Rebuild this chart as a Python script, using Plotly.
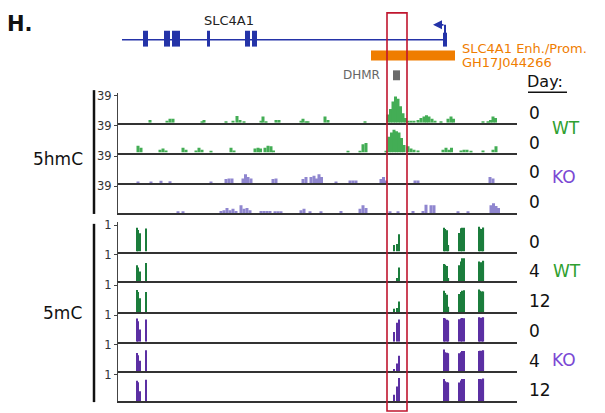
import plotly.graph_objects as go

# ---------------- data (genomic coordinate units along the locus) ----------------
gene_name = "SLC4A1"
gene_start, gene_end = 4, 327
exon_starts = [25, 46, 54, 89, 127, 134]
exon_ends = [30, 52, 62, 92, 132, 139]
tss_exon = (325, 329)
tss_arrow_tip = 315
enh_start, enh_end = 253, 337
dhmr_start, dhmr_end = 275, 282
window_start, window_end = 269, 289

# 5hmC tracks (scale 0-39)
hmc_wt_r1_pos = [32, 49, 52, 55, 84, 86, 108, 115, 119, 122, 126, 143, 145, 148, 158, 161, 183, 185, 188, 190,
                 207, 210, 247, 270, 272.5, 275, 277.5, 280, 282.5, 285, 287.5, 290, 293, 296, 300, 303, 306,
                 308.5, 311, 314, 317, 323, 330, 333, 335.5, 365, 370, 372.5, 375, 377.5]
hmc_wt_r1_val = [4, 3, 6, 6, 2, 4, 1.5, 3, 10, 4, 1.5, 3, 9, 1.5, 4, 4, 3, 6, 1.5, 1.5,
                 9, 4, 1.5, 12, 20, 31, 38, 35, 24, 14, 7, 3, 3, 3, 4, 7, 9,
                 11, 9, 6, 3, 1.5, 6, 9, 6, 1.5, 1.5, 4, 9, 7]
hmc_wt_r2_pos = [20, 23, 42, 45, 48, 65, 68, 78, 81, 84, 93, 113, 116, 137, 140, 142.5, 147, 150, 153, 155.5,
                 230, 242, 245, 248, 268, 271, 273.5, 276, 278.5, 281, 283.5, 286, 290, 293, 296, 300,
                 325, 328, 331, 333.5, 343, 346, 349, 353, 365, 375, 378]
hmc_wt_r2_val = [10, 7, 4, 6, 3, 7, 4, 3, 7, 4, 1.5, 7, 3, 6, 7, 6, 7, 10, 9, 3,
                 1.5, 1.5, 12, 14, 1.5, 23, 29, 33, 31, 29, 21, 11, 9, 6, 4, 3,
                 4, 7, 4, 7, 3, 4, 4, 1.5, 3, 4, 9]
hmc_ko_r1_pos = [20, 33, 43, 52, 93, 108, 111, 114, 125, 127.5, 130, 133, 155, 158, 185, 188, 193, 196, 198.5,
                 201, 203.5, 218, 232, 235, 238, 263, 265.5, 268, 297, 300, 372, 375]
hmc_ko_r1_val = [1.5, 2, 3.5, 3, 1.5, 6, 7, 7, 7, 13, 9, 7, 6, 7, 6, 9, 9, 11, 7,
                 13, 9, 1.5, 4, 4, 4, 6, 9, 4, 4, 4, 9, 7]
hmc_ko_r2_pos = [60, 65, 103, 106, 109, 112, 115, 118, 123, 126, 129, 132, 143, 146, 149, 152, 157, 160, 163,
                 183, 186, 192, 203, 223, 242, 245, 248, 272, 280, 295, 305, 308, 313, 316, 340, 350,
                 373, 375.5, 378, 380.5]
hmc_ko_r2_val = [2, 2, 3, 4, 7, 4, 6, 3, 11, 6, 7, 4, 3, 3, 3, 3, 2, 2, 2,
                 4, 6, 1.5, 1.5, 3, 6, 11, 7, 1.5, 1.5, 3, 3, 12, 11, 11, 1.5, 1.5,
                 11, 14, 10, 7]

# 5mC tracks (fraction methylated, 0-1) at CpG positions
mc_pos = [19, 20.3, 21.6, 28, 276, 279, 281, 326, 327.5, 329, 330.5, 341.5, 343, 344.5, 346, 361, 362.5, 364, 365.5]
mc_wt_d0 = [0.9, 0.81, 0.69, 0.87, 0.25, 0.29, 0.65, 0.9, 0.85, 0.8, 0.25, 0.7, 0.88, 0.9, 0.9, 0.94, 0.86, 0.85, 0.91]
mc_wt_d4 = [0.6, 0.52, 0.37, 0.69, 0.0, 0.12, 0.52, 0.65, 0.62, 0.58, 0.12, 0.6, 0.75, 0.87, 0.87, 0.75, 0.72, 0.72, 0.77]
mc_wt_d12 = [0.83, 0.75, 0.52, 0.75, 0.12, 0.15, 0.4, 0.8, 0.72, 0.65, 0.2, 0.68, 0.75, 0.8, 0.82, 0.85, 0.8, 0.77, 0.77]
mc_ko_d0 = [0.87, 0.77, 0.46, 0.84, 0.37, 0.71, 0.84, 0.89, 0.87, 0.83, 0.8, 0.85, 0.87, 0.89, 0.88, 0.92, 0.9, 0.9, 0.92]
mc_ko_d4 = [0.69, 0.61, 0.4, 0.8, 0.09, 0.3, 0.59, 0.83, 0.72, 0.7, 0.68, 0.68, 0.72, 0.77, 0.77, 0.77, 0.78, 0.78, 0.8]
mc_ko_d12 = [0.77, 0.71, 0.37, 0.81, 0.24, 0.55, 0.87, 0.83, 0.75, 0.71, 0.7, 0.7, 0.78, 0.83, 0.83, 0.83, 0.83, 0.82, 0.85]

hmc_day_labels = ["0", "0", "0", "0"]
mc_day_labels = ["0", "4", "12", "0", "4", "12"]

# ---------------- styling / layout ----------------
W, H = 605, 413
FONT = "DejaVu Sans"
GREEN_HMC = "#43ad55"
PURPLE_HMC = "#8f86cf"
GREEN_MC = "#1b7d3c"
PURPLE_MC = "#5b2fa3"
GREEN_TXT = "#2fa02f"
PURPLE_TXT = "#7a48d4"
BLUE = "#2433a8"
ORANGE = "#ef7d00"
RED = "#c0162f"


def fx(px):
    return px / W


def fy(py):
    return 1 - py / H


X0, X1 = 118, 517
XR = [0, 399]
TRACK_H = 30

specs = [
    (hmc_wt_r1_pos, hmc_wt_r1_val, GREEN_HMC, 3.0, 43, 39, "39", 120),
    (hmc_wt_r2_pos, hmc_wt_r2_val, GREEN_HMC, 3.0, 43, 39, "39", 150),
    (hmc_ko_r1_pos, hmc_ko_r1_val, PURPLE_HMC, 3.0, 43, 39, "39", 181),
    (hmc_ko_r2_pos, hmc_ko_r2_val, PURPLE_HMC, 3.0, 43, 39, "39", 211),
    (mc_pos, mc_wt_d0, GREEN_MC, 1.2, 1.12, 1, "1", 250),
    (mc_pos, mc_wt_d4, GREEN_MC, 1.2, 1.12, 1, "1", 280),
    (mc_pos, mc_wt_d12, GREEN_MC, 1.2, 1.12, 1, "1", 311),
    (mc_pos, mc_ko_d0, PURPLE_MC, 1.2, 1.12, 1, "1", 341),
    (mc_pos, mc_ko_d4, PURPLE_MC, 1.2, 1.12, 1, "1", 371),
    (mc_pos, mc_ko_d12, PURPLE_MC, 1.2, 1.12, 1, "1", 401),
]

for p, v, *_ in specs:
    if len(p) != len(v):
        raise ValueError("length mismatch")

fig = go.Figure()
layout = dict(
    width=W, height=H, margin=dict(l=0, r=0, t=0, b=0),
    paper_bgcolor="white", plot_bgcolor="white",
    showlegend=False, barmode="overlay", hovermode=False,
    font=dict(family=FONT, color="#222"),
)

for i, (pos, val, color, width, ymax, tick, ticktxt, base) in enumerate(specs, start=1):
    sfx = "" if i == 1 else str(i)
    xa, ya = "x" + sfx, "y" + sfx
    fig.add_trace(go.Bar(x=pos, y=val, width=width, xaxis=xa, yaxis=ya,
                         marker=dict(color=color, line=dict(width=0))))
    xd = dict(domain=[fx(X0), fx(X1)], range=XR, anchor=ya, showline=True, linecolor="#333",
              linewidth=1.5, showticklabels=False, ticks="", showgrid=False, zeroline=False)
    if i > 1:
        xd["matches"] = "x"
    layout["xaxis" + sfx] = xd
    layout["yaxis" + sfx] = dict(domain=[fy(base), fy(base - TRACK_H)], range=[0, ymax], anchor=xa,
                                 showline=True, linecolor="#444", linewidth=1, ticks="outside",
                                 ticklen=3, tickcolor="#444", tickvals=[tick], ticktext=[ticktxt],
                                 tickfont=dict(size=11.5, color="#333", family=FONT),
                                 showgrid=False, zeroline=False)

shapes = []
# gene model
GENE_Y = 36
shapes.append(dict(type="line", xref="x", yref="paper", x0=gene_start, x1=gene_end,
                   y0=fy(GENE_Y), y1=fy(GENE_Y), line=dict(color=BLUE, width=1.5)))
for s, e in zip(exon_starts, exon_ends):
    shapes.append(dict(type="rect", xref="x", yref="paper", x0=s, x1=e, y0=fy(43), y1=fy(27),
                       fillcolor=BLUE, line=dict(width=0)))
shapes.append(dict(type="rect", xref="x", yref="paper", x0=tss_exon[0], x1=tss_exon[1], y0=fy(43), y1=fy(29),
                   fillcolor=BLUE, line=dict(width=0)))
tss_mid = (tss_exon[0] + tss_exon[1]) / 2
shapes.append(dict(type="line", xref="x", yref="paper", x0=tss_mid, x1=tss_mid, y0=fy(30), y1=fy(21),
                   line=dict(color=BLUE, width=2)))
# enhancer / promoter
shapes.append(dict(type="rect", xref="x", yref="paper", x0=enh_start, x1=enh_end, y0=fy(57), y1=fy(47),
                   fillcolor=ORANGE, line=dict(width=0)))
# DHMR
shapes.append(dict(type="rect", xref="x", yref="paper", x0=dhmr_start, x1=dhmr_end, y0=fy(77), y1=fy(67),
                   fillcolor="#6a6a6a", line=dict(width=0)))
# highlighted window
shapes.append(dict(type="rect", xref="x", yref="paper", x0=window_start, x1=window_end, y0=fy(411), y1=fy(9),
                   line=dict(color=RED, width=1.6), fillcolor="rgba(0,0,0,0)"))
# group brackets
shapes.append(dict(type="line", xref="paper", yref="paper", x0=fx(94), x1=fx(94), y0=fy(212), y1=fy(87),
                   line=dict(color="#111", width=2.5)))
shapes.append(dict(type="line", xref="paper", yref="paper", x0=fx(94), x1=fx(94), y0=fy(402), y1=fy(222),
                   line=dict(color="#111", width=2.5)))
# Day underline
shapes.append(dict(type="line", xref="paper", yref="paper", x0=fx(528), x1=fx(567), y0=fy(89), y1=fy(89),
                   line=dict(color="#111", width=1.5)))
layout["shapes"] = shapes

ann = []


def txt(text, px, py, size, color="#111", xanchor="left", bold=False):
    ann.append(dict(text=("<b>%s</b>" % text) if bold else text, xref="paper", yref="paper",
                    x=fx(px), y=fy(py), xanchor=xanchor, yanchor="middle", showarrow=False,
                    font=dict(size=size, color=color, family=FONT)))


txt("H.", 5, 20, 21, bold=True)
ann.append(dict(text=gene_name, xref="x", yref="paper", x=(exon_starts[3] + exon_ends[3]) / 2 + 20,
                y=fy(17), xanchor="center", yanchor="middle", showarrow=False,
                font=dict(size=13, color="#222", family=FONT)))
ann.append(dict(text="", xref="x", yref="paper", x=tss_arrow_tip, y=fy(21), ax=12, ay=0,
                showarrow=True, arrowhead=2, arrowsize=1, arrowwidth=1.8, arrowcolor=BLUE))
txt("SLC4A1 Enh./Prom.", 460, 45, 13, ORANGE)
txt("GH17J044266", 460, 59, 13, ORANGE)
txt("DHMR", 382, 72, 12, "#666", xanchor="right")
txt("Day:", 525, 78, 16)
txt("5hmC", 58, 157, 17, xanchor="center")
txt("5mC", 62, 312, 17, xanchor="center")
for lab, py in zip(hmc_day_labels, [110, 140, 170, 200]):
    txt(lab, 527, py, 17)
for lab, py in zip(mc_day_labels, [240, 270, 300, 330, 360, 390]):
    txt(lab, 527, py, 17)
txt("WT", 550, 125, 17, GREEN_TXT)
txt("KO", 550, 175, 17, PURPLE_TXT)
txt("WT", 551, 270, 17, GREEN_TXT)
txt("KO", 550, 359, 17, PURPLE_TXT)
layout["annotations"] = ann

fig.update_layout(**layout)
fig.write_html("out.html")
